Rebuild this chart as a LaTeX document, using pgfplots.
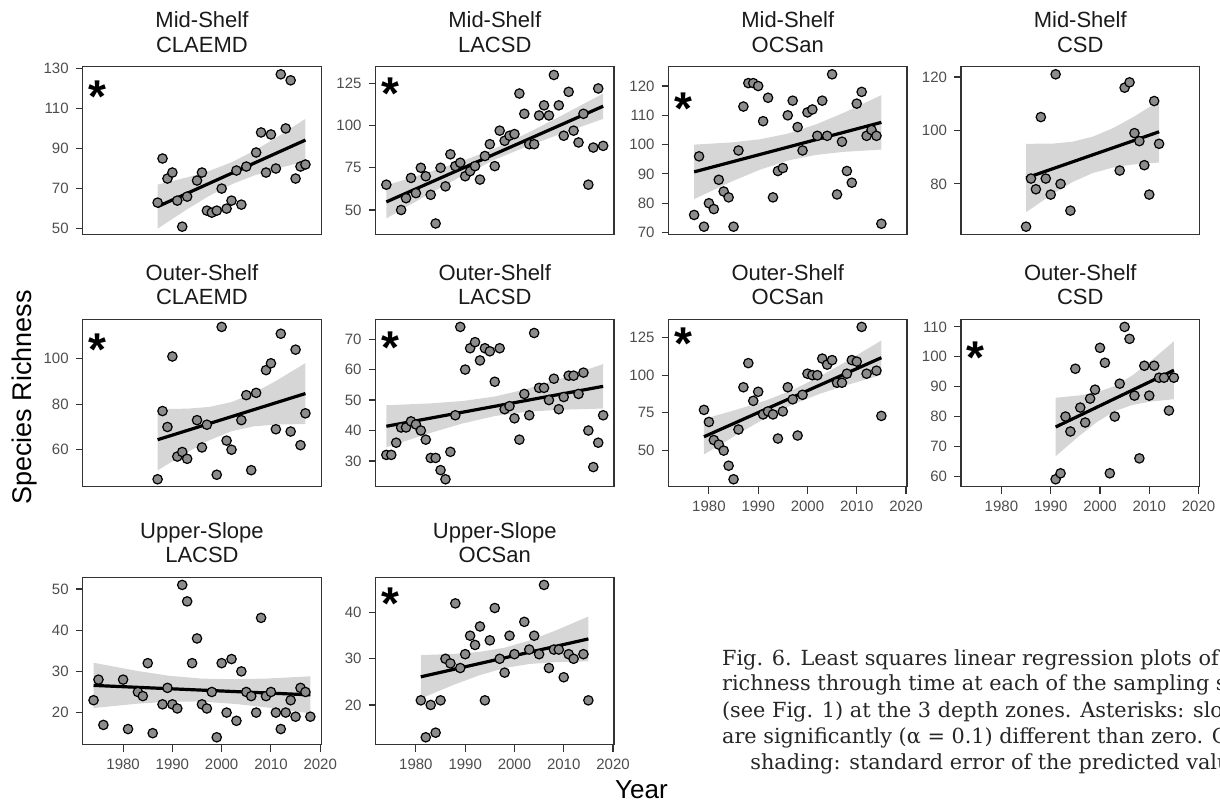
\documentclass[border=0pt]{standalone}
\usepackage{pgfplots}
\pgfplotsset{compat=1.18}
\usepackage{fontspec}
\setmainfont{Liberation Sans}
\newfontfamily\capfont{DejaVu Serif}
\definecolor{axgray}{RGB}{51,51,51}
\definecolor{labgray}{RGB}{77,77,77}
\definecolor{ptgray}{RGB}{140,140,140}
\definecolor{bandgray}{RGB}{153,153,153}
\definecolor{titgray}{RGB}{26,26,26}
\pgfplotsset{
  panel/.style={scale only axis, width=119.25pt, height=83.8pt, anchor=north west,
    xmin=1971.8, xmax=2020.2,
    axis line style={draw=axgray, line width=0.55pt},
    tick style={draw=axgray, line width=0.55pt}, major tick length=3.5pt, tick align=outside,
    xtick pos=left, ytick pos=left,
    tick label style={font=\fontsize{7.5}{9}\selectfont, text=labgray},
    /pgf/number format/1000 sep={}, /pgf/number format/assume math mode=true,
    xtick=\empty,
    every axis title shift=0pt,
    title style={font=\fontsize{11}{12.2}\selectfont, text=titgray, align=center, inner sep=0pt, anchor=south, yshift=7pt},
  },
  bottomaxis/.style={xtick={1980,1990,2000,2010,2020}},
  pts/.style={only marks, mark=*, mark size=2.35pt, mark options={fill=ptgray, draw=black, line width=0.6pt}},
  band/.style={fill=bandgray, fill opacity=0.4, draw=none},
  fit/.style={black, line width=1.6pt},
}
\newcommand{\sigstar}[1]{\node[anchor=base, font=\fontsize{23}{23}\bfseries\selectfont, yshift=-11.6pt] at (rel axis cs:0.0616,#1) {*};}
\begin{document}
\begin{tikzpicture}
\useasboundingbox (0,0) rectangle (610pt,-400.5pt);
\begin{scope}[overlay]
% P1
\begin{axis}[panel, at={(41.35pt,-33.35pt)}, title={Mid-Shelf\\CLAEMD}, ymin=47.2, ymax=130.8, ytick={50,70,90,110,130}]
\addplot[pts] coordinates {(1987,63)(1988,85)(1989,75)(1990,78)(1991,64)(1992,51)(1993,66)(1995,74)(1996,78)(1997,59)(1998,58)(1999,59)(2000,70)(2001,60)(2002,64)(2003,79)(2004,62)(2005,81)(2007,88)(2008,98)(2009,78)(2010,97)(2011,80)(2012,127)(2013,100)(2014,124)(2015,75)(2016,81)(2017,82)};
\addplot[band] coordinates {(1987,72)(1993,75.57)(1997.5,78.82)(2002,83.1)(2006.5,88.72)(2011,95.29)(2017,104.8)(2017,83.6)(2011,79.83)(2006.5,76.44)(2002,72.1)(1997.5,66.42)(1993,59.71)(1987,50)};
\addplot[fit] coordinates {(1987,61)(2017,94.2)};
\sigstar{0.865}
\end{axis}
% P2
\begin{axis}[panel, at={(187.75pt,-33.35pt)}, title={Mid-Shelf\\LACSD}, ymin=35.6, ymax=134.9, ytick={50,75,100,125}]
\addplot[pts] coordinates {(1974,65)(1975,35)(1976,35)(1977,50)(1978,57)(1979,69)(1980,60)(1981,75)(1982,70)(1983,59)(1984,42)(1985,75)(1986,64)(1987,83)(1988,76)(1989,78)(1990,70)(1991,73)(1992,76)(1993,68)(1994,82)(1995,89)(1996,76)(1997,97)(1998,91)(1999,94)(2000,95)(2001,119)(2002,107)(2003,89)(2004,89)(2005,106)(2006,112)(2007,106)(2008,130)(2009,112)(2010,94)(2011,120)(2012,97)(2013,90)(2014,107)(2015,65)(2016,87)(2017,122)(2018,88)};
\addplot[band] coordinates {(1974,64.6)(1982.8,72.59)(1989.4,78.96)(1996,86.45)(2002.6,95.52)(2009.2,105.38)(2018,119.0)(2018,104.0)(2009.2,94.94)(2002.6,87.78)(1996,79.85)(1989.4,70.34)(1982.8,59.69)(1974,45.0)};
\addplot[fit] coordinates {(1974,54.8)(2018,111.5)};
\sigstar{0.881}
\end{axis}
% P3
\begin{axis}[panel, at={(334.25pt,-33.35pt)}, title={Mid-Shelf\\OCSan}, ymin=69.4, ymax=126.6, ytick={70,80,90,100,110,120}]
\addplot[pts] coordinates {(1977,76)(1978,96)(1979,72)(1980,80)(1981,78)(1982,88)(1983,84)(1984,82)(1985,72)(1986,98)(1987,113)(1988,121)(1989,121)(1990,120)(1991,108)(1992,116)(1993,82)(1994,91)(1995,92)(1996,110)(1997,115)(1998,106)(1999,98)(2000,111)(2001,112)(2002,103)(2003,115)(2004,103)(2005,124)(2006,83)(2007,101)(2008,91)(2009,87)(2010,114)(2011,118)(2012,103)(2013,105)(2014,103)(2015,73)};
\addplot[band] coordinates {(1977,100.0)(1984.6,100.76)(1990.3,101.81)(1996,103.75)(2001.7,106.88)(2007.4,110.9)(2015,116.9)(2015,98.3)(2007.4,97.54)(2001.7,96.48)(1996,94.55)(1990.3,91.41)(1984.6,87.4)(1977,81.4)};
\addplot[fit] coordinates {(1977,90.7)(2015,107.6)};
\sigstar{0.792}
\end{axis}
% P4
\begin{axis}[panel, at={(480.5pt,-33.35pt)}, title={Mid-Shelf\\CSD}, ymin=61.15, ymax=123.85, ytick={80,100,120}]
\addplot[pts] coordinates {(1985,64)(1986,82)(1987,78)(1988,105)(1989,82)(1990,76)(1991,121)(1992,80)(1994,70)(2004,85)(2005,116)(2006,118)(2007,99)(2008,96)(2009,87)(2010,76)(2011,111)(2012,95)};
\addplot[band] coordinates {(1985,95.0)(1990.4,95.07)(1994.45,95.79)(1998.5,97.65)(2002.55,100.79)(2006.6,104.83)(2012,111.0)(2012,88.0)(2006.6,87.25)(2002.55,86.09)(1998.5,84.05)(1994.45,80.71)(1990.4,76.25)(1985,69.4)};
\addplot[fit] coordinates {(1985,82.2)(2012,99.5)};
\end{axis}
% P5
\begin{axis}[panel, at={(41.35pt,-159.65pt)}, title={Outer-Shelf\\CLAEMD}, ymin=43.65, ymax=117.35, ytick={60,80,100}]
\addplot[pts] coordinates {(1987,47)(1988,77)(1989,70)(1990,101)(1991,57)(1992,59)(1993,56)(1995,73)(1996,61)(1997,71)(1999,49)(2000,114)(2001,64)(2002,60)(2004,73)(2005,84)(2006,51)(2007,85)(2009,95)(2010,98)(2011,69)(2012,111)(2014,68)(2015,104)(2016,62)(2017,76)};
\addplot[band] coordinates {(1987,77.9)(1993,78.04)(1997.5,78.83)(2002,80.95)(2006.5,84.93)(2011,90.22)(2017,98.1)(2017,71.3)(2011,71.06)(2006.5,70.27)(2002,68.15)(1997.5,64.17)(1993,58.88)(1987,50.9)};
\addplot[fit] coordinates {(1987,64.4)(2017,84.7)};
\sigstar{0.863}
\end{axis}
% P6
\begin{axis}[panel, at={(187.75pt,-159.65pt)}, title={Outer-Shelf\\LACSD}, ymin=21.5, ymax=76.5, ytick={30,40,50,60,70}]
\addplot[pts] coordinates {(1974,32)(1975,32)(1976,36)(1977,41)(1978,41)(1979,43)(1980,42)(1981,40)(1982,37)(1983,31)(1984,31)(1985,27)(1986,24)(1987,33)(1988,45)(1989,74)(1990,60)(1991,67)(1992,69)(1993,63)(1994,67)(1995,66)(1996,56)(1997,67)(1998,47)(1999,48)(2000,44)(2001,37)(2002,52)(2003,45)(2004,72)(2005,54)(2006,54)(2007,50)(2008,57)(2009,47)(2010,51)(2011,58)(2012,58)(2013,52)(2014,59)(2015,40)(2016,28)(2017,36)(2018,45)};
\addplot[band] coordinates {(1974,48.3)(1982.8,48.89)(1989.4,49.67)(1996,51.15)(2002.6,53.67)(2009.2,56.95)(2018,61.8)(2018,47.2)(2009.2,46.81)(2002.6,46.15)(1996,44.75)(1989.4,42.29)(1982.8,39.15)(1974,34.5)};
\addplot[fit] coordinates {(1974,41.4)(2018,54.5)};
\sigstar{0.877}
\end{axis}
% P7
\begin{axis}[panel, bottomaxis, at={(334.25pt,-159.65pt)}, title={Outer-Shelf\\OCSan}, ymin=25.95, ymax=137.05, ytick={50,75,100,125}]
\addplot[pts] coordinates {(1979,77)(1980,69)(1981,57)(1982,54)(1983,50)(1984,40)(1985,31)(1986,64)(1987,92)(1988,108)(1989,83)(1990,89)(1991,74)(1992,76)(1993,74)(1994,58)(1995,76)(1996,92)(1997,84)(1998,60)(1999,87)(2000,101)(2001,100)(2002,100)(2003,111)(2004,107)(2005,110)(2006,95)(2007,95)(2008,101)(2009,110)(2010,109)(2011,132)(2012,101)(2014,103)(2015,73)};
\addplot[band] coordinates {(1979,70.95)(1986.2,77.71)(1991.6,83.32)(1997,90.2)(2002.4,98.97)(2007.8,108.96)(2015,123.0)(2015,100.2)(2007.8,93.28)(2002.4,87.55)(1997,80.6)(1991.6,71.76)(1986.2,61.65)(1979,47.45)};
\addplot[fit] coordinates {(1979,59.2)(2015,111.6)};
\sigstar{0.896}
\end{axis}
% P8
\begin{axis}[panel, bottomaxis, at={(480.5pt,-159.65pt)}, title={Outer-Shelf\\CSD}, ymin=56.45, ymax=112.55, ytick={60,70,80,90,100,110}]
\addplot[pts] coordinates {(1991,59)(1992,61)(1993,80)(1994,75)(1995,96)(1996,83)(1997,78)(1998,86)(1999,89)(2000,103)(2001,98)(2002,61)(2003,80)(2004,91)(2005,110)(2006,106)(2007,87)(2008,66)(2009,97)(2010,87)(2011,97)(2012,93)(2013,93)(2014,82)(2015,93)};
\addplot[band] coordinates {(1991,86.3)(1995.8,87.07)(1999.4,88.12)(2003,90.2)(2006.6,93.8)(2010.2,98.42)(2015,105.2)(2015,85.8)(2010.2,84.98)(2006.6,83.9)(2003,81.8)(1999.4,78.18)(1995.8,73.53)(1991,66.7)};
\addplot[fit] coordinates {(1991,76.5)(2015,95.5)};
\sigstar{0.817}
\end{axis}
% P9
\begin{axis}[panel, bottomaxis, at={(41.35pt,-288.65pt)}, title={Upper-Slope\\LACSD}, ymin=12.15, ymax=52.85, ytick={20,30,40,50}]
\addplot[pts] coordinates {(1974,23)(1975,28)(1976,17)(1980,28)(1981,16)(1983,25)(1984,24)(1985,32)(1986,15)(1988,22)(1989,26)(1990,22)(1991,21)(1992,51)(1993,47)(1994,32)(1995,38)(1996,22)(1997,21)(1998,25)(1999,14)(2000,32)(2001,20)(2002,33)(2003,18)(2004,30)(2005,25)(2006,24)(2007,20)(2008,43)(2009,24)(2010,25)(2011,20)(2012,16)(2013,20)(2014,23)(2015,19)(2016,26)(2017,25)(2018,19)};
\addplot[band] coordinates {(1974,32.1)(1982.8,30.13)(1989.4,28.93)(1996,28.25)(2002.6,28.09)(2009.2,28.27)(2018,28.8)(2018,19.8)(2009.2,21.25)(2002.6,22.11)(1996,22.65)(1989.4,22.65)(1982.8,22.15)(1974,21.1)};
\addplot[fit] coordinates {(1974,26.6)(2018,24.3)};
\end{axis}
% P10
\begin{axis}[panel, bottomaxis, at={(187.75pt,-288.65pt)}, title={Upper-Slope\\OCSan}, ymin=11.35, ymax=47.65, ytick={20,30,40}]
\addplot[pts] coordinates {(1981,21)(1982,13)(1983,20)(1984,14)(1985,21)(1986,30)(1987,29)(1988,42)(1989,28)(1990,31)(1991,35)(1992,33)(1993,37)(1994,21)(1995,34)(1996,41)(1997,30)(1998,27)(1999,35)(2000,31)(2002,38)(2003,32)(2004,35)(2005,31)(2006,46)(2007,28)(2008,32)(2009,32)(2010,26)(2011,31)(2012,30)(2014,31)(2015,21)};
\addplot[band] coordinates {(1981,30.8)(1987.8,31.06)(1992.9,31.5)(1998,32.4)(2003.1,33.98)(2008.2,36.06)(2015,39.15)(2015,29.45)(2008.2,29.26)(2003.1,28.88)(1998,28.0)(1992.9,26.44)(1987.8,24.42)(1981,21.4)};
\addplot[fit] coordinates {(1981,26.1)(2015,34.3)};
\sigstar{0.889}
\end{axis}
% axis titles
\node[rotate=90, anchor=base, font=\fontsize{13.5}{16}\selectfont, text=black] at (15.85pt,-198.75pt) {Species Richness};
\node[anchor=base, font=\fontsize{13}{16}\selectfont, text=black] at (320.75pt,-399.3pt) {Year};
% caption
\node[anchor=base west, inner sep=0pt, font=\capfont\fontsize{10.4}{12}\selectfont, text=black!85] at (360.85pt,-332.5pt) {Fig. 6. Least squares linear regression plots of the species};
\node[anchor=base west, inner sep=0pt, font=\capfont\fontsize{10.4}{12}\selectfont, text=black!85] at (360.85pt,-345.35pt) {richness through time at each of the sampling sites};
\node[anchor=base west, inner sep=0pt, font=\capfont\fontsize{10.4}{12}\selectfont, text=black!85] at (360.85pt,-358.5pt) {(see Fig. 1) at the 3 depth zones. Asterisks: slopes};
\node[anchor=base west, inner sep=0pt, font=\capfont\fontsize{10.4}{12}\selectfont, text=black!85] at (360.85pt,-371.65pt) {are significantly (α = 0.1) different than zero. Grey};
\node[anchor=base west, inner sep=0pt, font=\capfont\fontsize{10.4}{12}\selectfont, text=black!85] at (375pt,-384.5pt) {shading: standard error of the predicted values};
\end{scope}
\end{tikzpicture}
\end{document}
